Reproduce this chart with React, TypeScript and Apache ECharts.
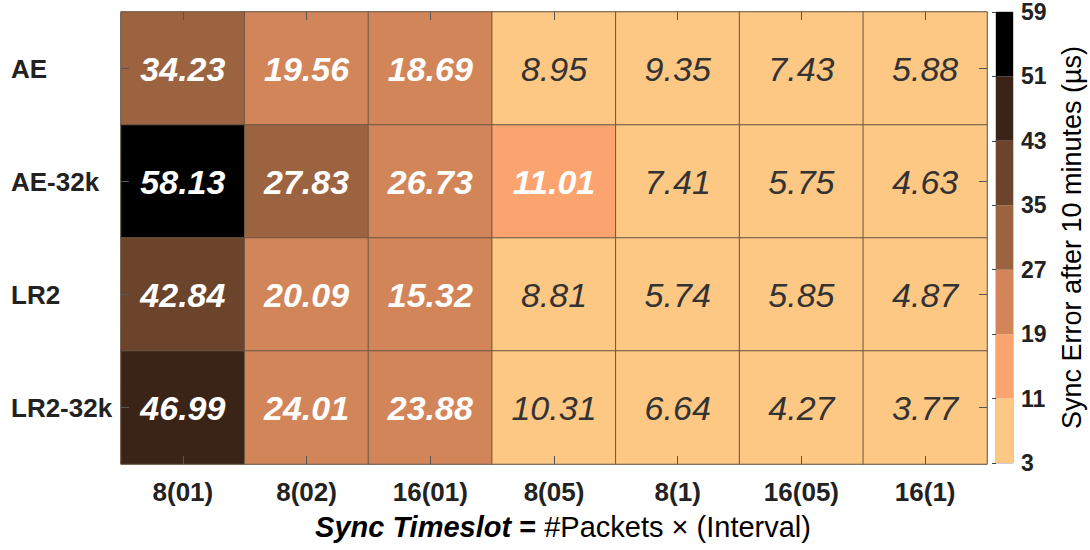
import React, { useEffect, useRef } from "react";
import * as echarts from "echarts";

// Column and row categories
const columns = ["8(01)", "8(02)", "16(01)", "8(05)", "8(1)", "16(05)", "16(1)"];
const rows = ["AE", "AE-32k", "LR2", "LR2-32k"];

// Sync error (µs) per row, one value per column
const aeValues = [34.23, 19.56, 18.69, 8.95, 9.35, 7.43, 5.88];
const ae32kValues = [58.13, 27.83, 26.73, 11.01, 7.41, 5.75, 4.63];
const lr2Values = [42.84, 20.09, 15.32, 8.81, 5.74, 5.85, 4.87];
const lr232kValues = [46.99, 24.01, 23.88, 10.31, 6.64, 4.27, 3.77];
const rowValues = [aeValues, ae32kValues, lr2Values, lr232kValues];

// Colour scale
const palette = ["#FDC784", "#FBA46F", "#D3855A", "#9C6340", "#6C432B", "#3A2317", "#000000"];
const colorbarTicks = [3, 11, 19, 27, 35, 43, 51, 59];
const cellColorBreaks = [3, 11, 15, 27, 35, 43, 51, 59];
const lightTextBelow = 11;

const FONT = "'Liberation Sans', Arial, Helvetica, sans-serif";
const NBSP = "\u00a0";

export default function App() {
  const ref = useRef<HTMLDivElement>(null);

  useEffect(() => {
    if (!ref.current) return;
    const chart = echarts.init(ref.current, null, { renderer: "svg" });

    const heatData: any[] = [];
    rowValues.forEach((vals, r) => {
      vals.forEach((v, c) => {
        const light = v < lightTextBelow;
        heatData.push({
          value: [c, r, v],
          label: {
            color: light ? "#333333" : "#ffffff",
            fontWeight: light ? "normal" : "bold",
          },
        });
      });
    });

    const pieces = palette.map((color, i) => ({
      gte: cellColorBreaks[i],
      lt: cellColorBreaks[i + 1] + (i === palette.length - 1 ? 0.001 : 0),
      color,
    }));

    const barData = palette.map((color, i) => ({
      value: [colorbarTicks[i], colorbarTicks[i + 1]],
      itemStyle: { color },
    }));

    const option: any = {
      animation: false,
      backgroundColor: "#ffffff",
      textStyle: { fontFamily: FONT },
      grid: [
        { left: 121, top: 12, width: 866, height: 452, show: true, borderColor: "#8a8a8a", borderWidth: 1, backgroundColor: "transparent" },
        { left: 996, top: 12, width: 17, height: 451, show: true, borderColor: "#9a9a9a", borderWidth: 1, backgroundColor: "transparent" },
      ],
      xAxis: [
        {
          type: "category",
          gridIndex: 0,
          data: columns,
          position: "bottom",
          axisLine: { show: false },
          axisTick: { show: true, inside: true, alignWithLabel: true, length: 8, lineStyle: { color: "#555" } },
          axisLabel: { fontFamily: FONT, fontSize: 26, fontWeight: "bold", color: "#222", margin: 15 },
          splitLine: { show: false },
          name: `{a|Sync Timeslot}{b|${NBSP}=${NBSP}}{c|#Packets${NBSP}×${NBSP}(Interval)}`,
          nameLocation: "middle",
          nameGap: 48,
          nameTextStyle: {
            padding: [0, 0, 0, 18],
            rich: {
              a: { fontFamily: FONT, fontSize: 29, fontWeight: "bold", fontStyle: "italic", color: "#000" },
              b: { fontFamily: FONT, fontSize: 29, fontWeight: "bold", color: "#000" },
              c: { fontFamily: FONT, fontSize: 29, color: "#000" },
            },
          },
          z: 5,
        },
        {
          type: "category",
          gridIndex: 0,
          data: columns,
          position: "top",
          axisLine: { show: false },
          axisTick: { show: true, inside: true, alignWithLabel: true, length: 8, lineStyle: { color: "#555" } },
          axisLabel: { show: false },
          z: 5,
        },
        { type: "value", gridIndex: 1, min: 0, max: 1, show: false },
      ],
      yAxis: [
        {
          type: "category",
          gridIndex: 0,
          data: rows,
          inverse: true,
          axisLine: { show: false },
          axisTick: { show: true, inside: true, alignWithLabel: true, length: 8, lineStyle: { color: "#555" } },
          axisLabel: { fontFamily: FONT, fontSize: 26, fontWeight: "bold", color: "#222", align: "left", margin: 110 },
          z: 5,
        },
        {
          type: "category",
          gridIndex: 0,
          data: rows,
          inverse: true,
          position: "right",
          axisLine: { show: false },
          axisTick: { show: true, inside: true, alignWithLabel: true, length: 8, lineStyle: { color: "#555" } },
          axisLabel: { show: false },
          z: 5,
        },
        {
          type: "value",
          gridIndex: 1,
          position: "right",
          min: colorbarTicks[0],
          max: colorbarTicks[colorbarTicks.length - 1],
          interval: 8,
          axisLine: { show: false },
          axisTick: { show: true, inside: true, length: 4, lineStyle: { color: "#444" } },
          splitLine: { show: false },
          axisLabel: { fontFamily: FONT, fontSize: 23, fontWeight: "bold", color: "#222", margin: 8 },
          name: "Sync Error after 10 minutes (µs)",
          nameLocation: "middle",
          nameRotate: 90,
          nameGap: 45,
          nameTextStyle: { fontFamily: FONT, fontSize: 27, color: "#000" },
          z: 5,
        },
      ],
      visualMap: {
        type: "piecewise",
        show: false,
        seriesIndex: 0,
        dimension: 2,
        pieces,
      },
      series: [
        {
          type: "heatmap",
          xAxisIndex: 0,
          yAxisIndex: 0,
          data: heatData,
          itemStyle: { borderColor: "#6b5845", borderWidth: 1 },
          label: {
            show: true,
            fontFamily: FONT,
            fontSize: 34,
            fontStyle: "italic",
            formatter: (p: any) => p.value[2].toFixed(2),
          },
          emphasis: { disabled: true },
        },
        {
          type: "custom",
          xAxisIndex: 2,
          yAxisIndex: 2,
          data: barData,
          renderItem: (params: any, api: any) => {
            const p1 = api.coord([0, api.value(1)]);
            const p2 = api.coord([1, api.value(0)]);
            return {
              type: "rect",
              shape: { x: p1[0], y: p1[1], width: p2[0] - p1[0], height: p2[1] - p1[1] },
              style: api.style(),
            };
          },
          z: 1,
        },
      ],
    };

    chart.setOption(option);
    return () => chart.dispose();
  }, []);

  return (
    <div
      ref={ref}
      style={{ position: "fixed", left: 0, top: 0, width: 1090, height: 550, background: "#fff" }}
    />
  );
}
